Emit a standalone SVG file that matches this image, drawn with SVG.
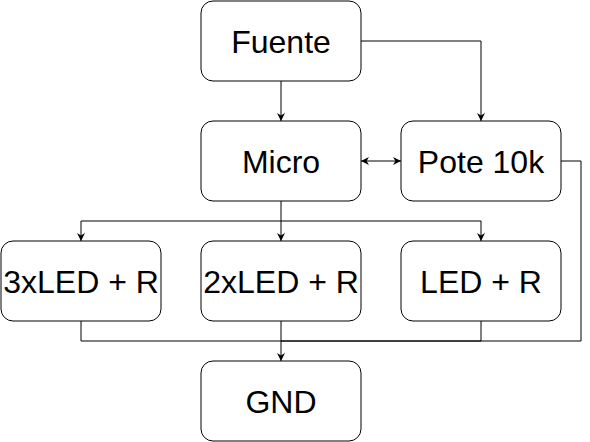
<svg xmlns="http://www.w3.org/2000/svg" width="590" height="442" viewBox="0 0 590 442">
<defs>
<style>
.box{fill:#ffffff;stroke:#000000;stroke-width:1}
.lbl{font-family:"Liberation Sans",Arial,sans-serif;font-size:32px;fill:#000000;text-anchor:middle}
.edge{fill:none;stroke:#000000;stroke-width:1}
</style>
<marker id="arr" viewBox="0 0 10 10" refX="10" refY="5" markerWidth="8" markerHeight="8" markerUnits="userSpaceOnUse" orient="auto-start-reverse">
<path d="M0,0 L10,5 L0,10 L3,5 Z" fill="#000000"/>
</marker>
</defs>
<rect width="590" height="442" fill="#ffffff"/>
<g id="connectors">
<path class="edge" d="M281,81 V121" marker-end="url(#arr)"/>
<path class="edge" d="M361,41 H481 V121" marker-end="url(#arr)"/>
<path class="edge" d="M361,161 H401" marker-start="url(#arr)" marker-end="url(#arr)"/>
<path class="edge" d="M281,201 V241" marker-end="url(#arr)"/>
<path class="edge" d="M281,221 H81 V241" marker-end="url(#arr)"/>
<path class="edge" d="M281,221 H481 V241" marker-end="url(#arr)"/>
<path class="edge" d="M281,321 V361" marker-end="url(#arr)"/>
<path class="edge" d="M81,321 V341 H281"/>
<path class="edge" d="M481,321 V341 H281"/>
<path class="edge" d="M561,161 H581 V341 H281"/>
</g>
<g id="fuente"><rect class="box" x="201" y="1" width="160" height="80" rx="12"/><text class="lbl" x="281" y="52.5">Fuente</text></g>
<g id="micro"><rect class="box" x="201" y="121" width="160" height="80" rx="12"/><text class="lbl" x="281" y="172.5">Micro</text></g>
<g id="pote"><rect class="box" x="401" y="121" width="160" height="80" rx="12"/><text class="lbl" x="481" y="172.5">Pote 10k</text></g>
<g id="led3"><rect class="box" x="1" y="241" width="160" height="80" rx="12"/><text class="lbl" x="81" y="292.5">3xLED + R</text></g>
<g id="led2"><rect class="box" x="201" y="241" width="160" height="80" rx="12"/><text class="lbl" x="281" y="292.5">2xLED + R</text></g>
<g id="led1"><rect class="box" x="401" y="241" width="160" height="80" rx="12"/><text class="lbl" x="481" y="292.5">LED + R</text></g>
<g id="gnd"><rect class="box" x="201" y="361" width="160" height="80" rx="12"/><text class="lbl" x="281" y="412.5">GND</text></g>
</svg>
